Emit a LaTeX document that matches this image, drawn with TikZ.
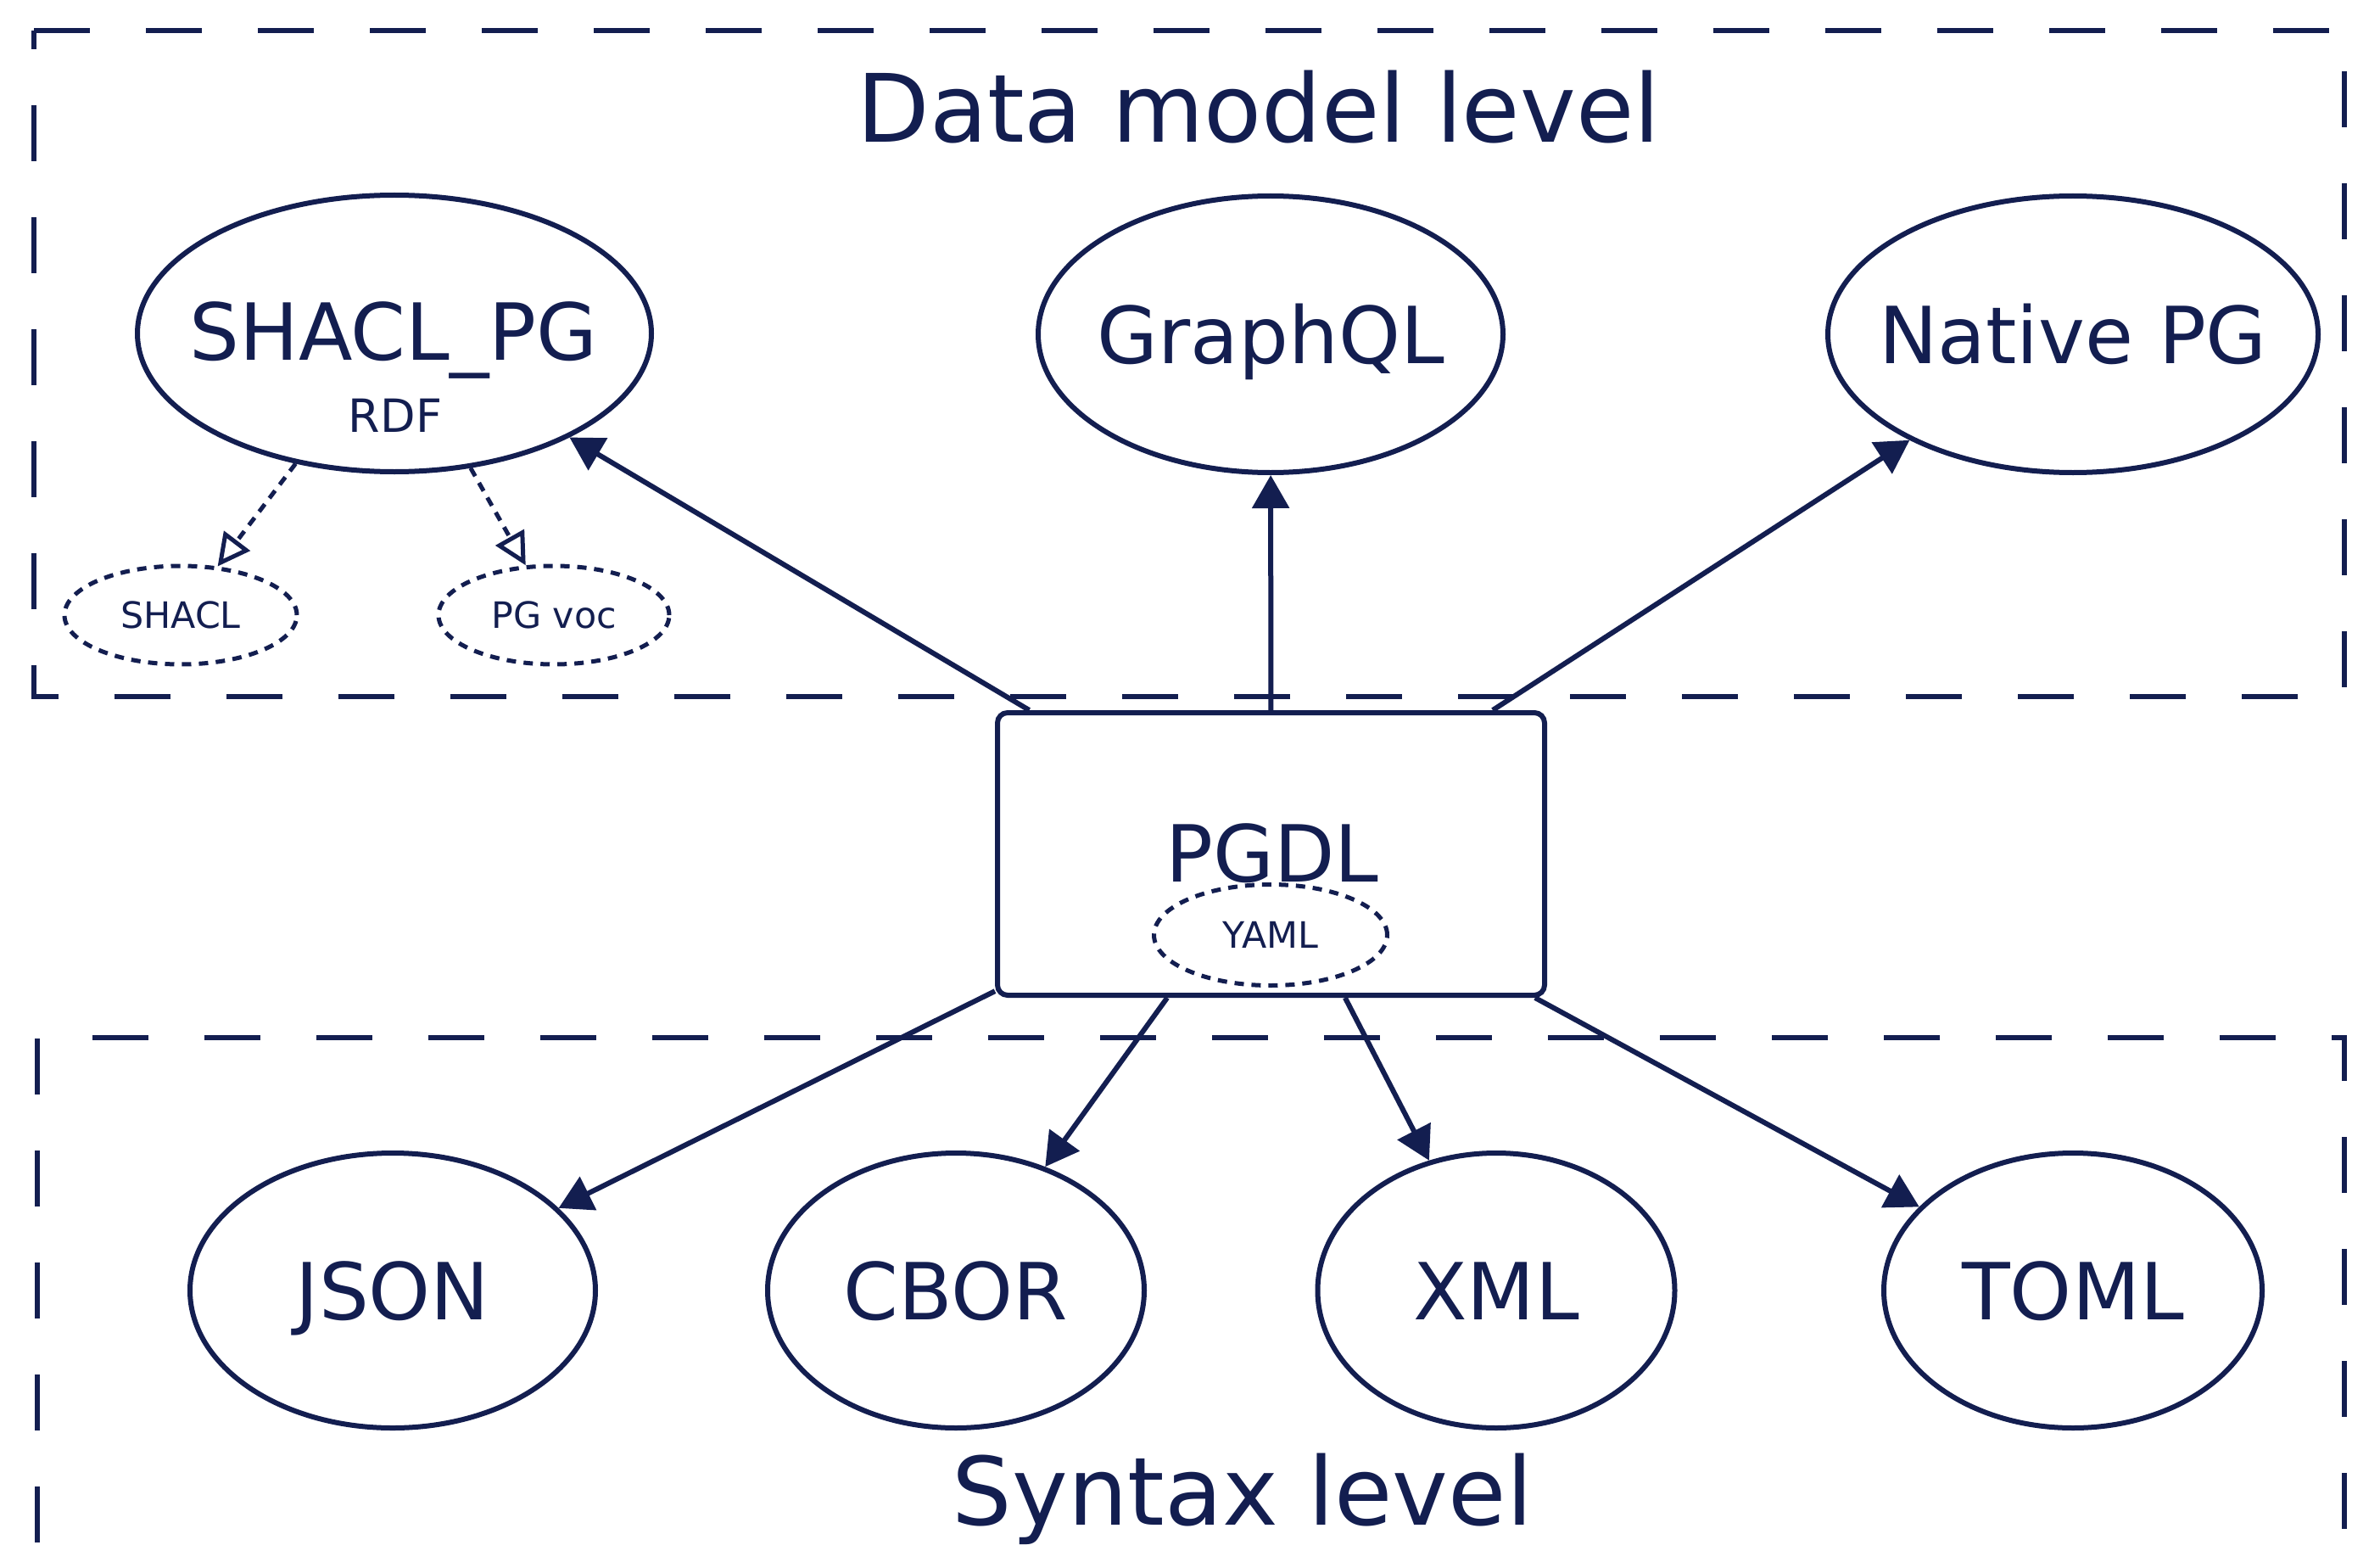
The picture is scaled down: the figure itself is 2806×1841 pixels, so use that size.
\documentclass[tikz,border=0pt]{standalone}
\usepackage{fontspec}
\setmainfont{DejaVu Sans}
\usetikzlibrary{shapes.geometric,arrows.meta}
\definecolor{navy}{RGB}{19,30,80}
\begin{document}
\begin{tikzpicture}[x=0.25pt,y=-0.25pt,
  every node/.style={text=navy},
  dotline/.style={dash pattern=on 2.75pt off 2.25pt},
  bigell/.style={draw=navy, line width=1.5pt, ellipse, inner sep=0pt, minimum height=81.5pt},
  smallell/.style={draw=navy, line width=1.25pt, dotline, ellipse, inner sep=0pt, minimum height=29pt},
  pgbox/.style={draw=navy, line width=1.5pt, rectangle, rounded corners=3pt, inner sep=0pt, minimum width=161.25pt, minimum height=83.25pt},
  arr/.style={draw=navy, line width=1.5pt, -{Triangle[length=9.75pt,width=10.75pt]}},
  openarr/.style={draw=navy, line width=1.25pt, dotline, -{Triangle[open,length=9.5pt,width=9.5pt]}},
  boxline/.style={draw=navy, line width=1.5pt, dash pattern=on 16.5pt off 16.5pt},
  bigtxt/.style={font=\fontsize{23.2pt}{28pt}\selectfont, anchor=base, inner sep=0pt},
  titletxt/.style={font=\fontsize{27.8pt}{33pt}\selectfont, anchor=base, inner sep=0pt},
  midtxt/.style={font=\fontsize{13.5pt}{16pt}\selectfont, anchor=base, inner sep=0pt},
  smalltxt/.style={font=\fontsize{10.7pt}{13pt}\selectfont, anchor=base, inner sep=0pt}
]
\useasboundingbox (0,0) rectangle (2806,1841);
\fill[white] (0,0) rectangle (2806,1841);

% cluster frames
\draw[boxline] (40,36) -- (2764,36) -- (2764,821) -- (40,821) -- cycle;
\begin{scope}
  \clip (0,0) rectangle (2806,1841);
  \draw[boxline] (44,1950) -- (44,1223) -- (2764,1223) -- (2764,1950);
\end{scope}

% titles
\node[titletxt] (ttop) at (1484,168) {Data model level};
\node[titletxt] (tbot) at (1465,1797) {Syntax level};

% data model nodes
\node[bigell, minimum width=151.5pt] (shaclpg) at (465,393) {};
\node[bigtxt] (tshaclpg) at (464,425) {SHACL\_PG};
\node[midtxt] (trdf) at (466,509) {RDF};

\node[bigell, minimum width=137pt] (graphql) at (1498,394) {};
\node[bigtxt] (tgraphql) at (1498,428) {GraphQL};

\node[bigell, minimum width=144.5pt] (nativepg) at (2444,394) {};
\node[bigtxt] (tnativepg) at (2444,428) {Native PG};

\node[smallell, minimum width=68.5pt] (shacl) at (213,725) {};
\node[smalltxt] (tshacl) at (213,740) {SHACL};
\node[smallell, minimum width=68pt] (pgvoc) at (653,725) {};
\node[smalltxt] (tpgvoc) at (653,740) {PG voc};

% PGDL
\node[pgbox] (pgdl) at (1498.5,1006.5) {};
\node[bigtxt] (tpgdl) at (1500,1039) {PGDL};
\node[smallell, minimum width=68.75pt, minimum height=29.75pt] (yaml) at (1498,1102) {};
\node[smalltxt] (tyaml) at (1498,1117) {YAML};

% syntax nodes
\node[bigell, minimum width=119.5pt, minimum height=81pt] (json) at (463,1521) {};
\node[bigtxt] (tjson) at (463,1555) {JSON};
\node[bigell, minimum width=111pt, minimum height=81pt] (cbor) at (1127,1521) {};
\node[bigtxt] (tcbor) at (1127,1555) {CBOR};
\node[bigell, minimum width=105.25pt, minimum height=81pt] (xml) at (1764,1521) {};
\node[bigtxt] (txml) at (1764,1555) {XML};
\node[bigell, minimum width=111.5pt, minimum height=81pt] (toml) at (2444,1521) {};
\node[bigtxt] (ttoml) at (2444,1555) {TOML};

% connectors
\draw[openarr] (shaclpg) -- (shacl);
\draw[openarr] (shaclpg) -- (pgvoc);
\draw[arr] (pgdl) -- (shaclpg);
\draw[arr] (pgdl) -- (graphql);
\draw[arr] (pgdl) -- (nativepg);
\draw[arr] (pgdl) -- (json);
\draw[arr] (pgdl) -- (cbor);
\draw[arr] (pgdl) -- (xml);
\draw[arr] (pgdl) -- (toml);
\end{tikzpicture}
\end{document}
